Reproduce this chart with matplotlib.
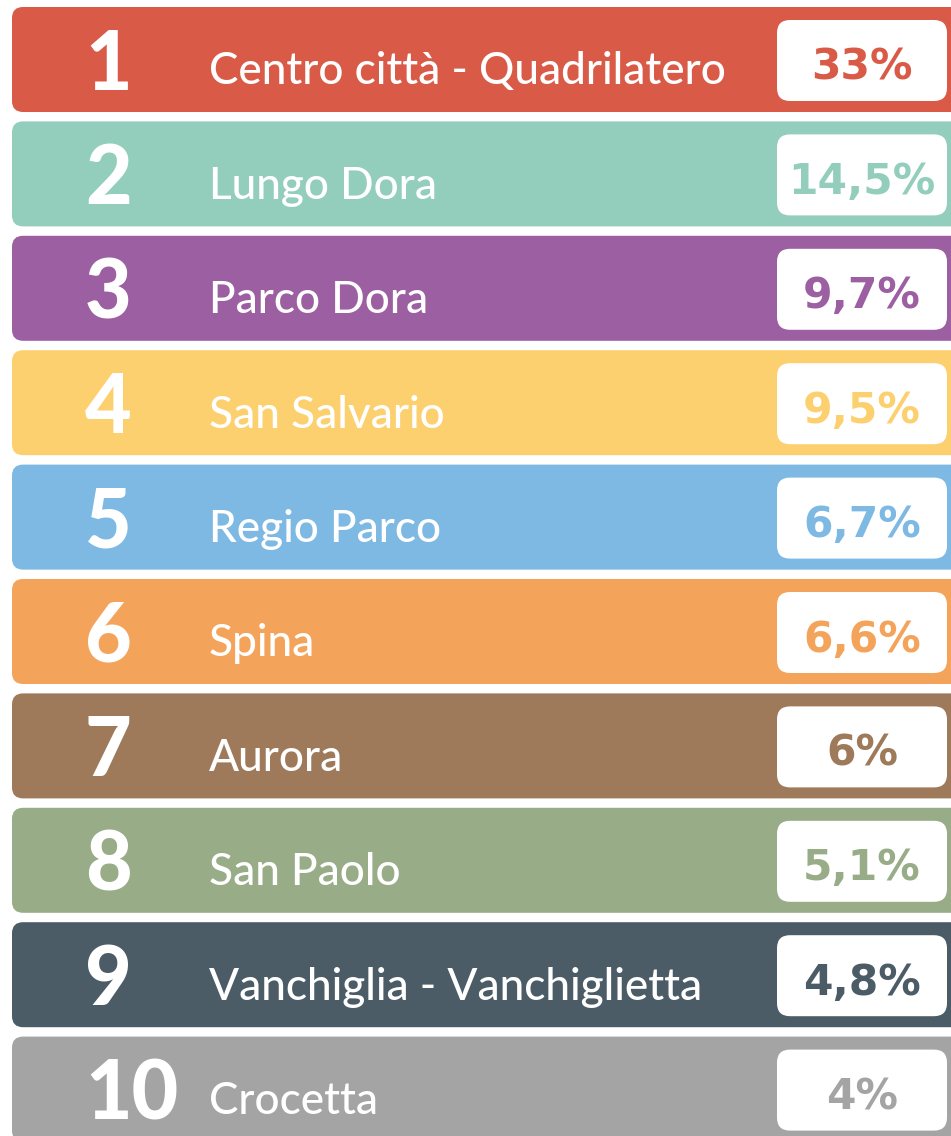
import matplotlib
matplotlib.use("Agg")
import matplotlib.pyplot as plt
from matplotlib.patches import FancyBboxPatch

ranks = [1, 2, 3, 4, 5, 6, 7, 8, 9, 10]
names = ["Centro città - Quadrilatero", "Lungo Dora", "Parco Dora", "San Salvario",
         "Regio Parco", "Spina", "Aurora", "San Paolo",
         "Vanchiglia - Vanchiglietta", "Crocetta"]
values = [33, 14.5, 9.7, 9.5, 6.7, 6.6, 6, 5.1, 4.8, 4]
colors = ["#D95B47", "#92CEBB", "#9C5FA2", "#FDD06F", "#7DB9E3",
          "#F4A35B", "#9E7A5A", "#97AC87", "#4B5C67", "#A5A4A5"]

W, H = 951, 1136
fig = plt.figure(figsize=(W / 100, H / 100), dpi=100)
ax = fig.add_axes([0, 0, 1, 1])
ax.set_xlim(0, W)
ax.set_ylim(H, 0)
ax.axis("off")

top0, pitch, bh = 7, 114.4, 105
for i, (r, n, v, c) in enumerate(zip(ranks, names, values, colors)):
    top = top0 + i * pitch
    ax.add_patch(FancyBboxPatch((12, top), 980, bh,
                                boxstyle="round,pad=0,rounding_size=11",
                                fc=c, ec="none"))
    ax.add_patch(FancyBboxPatch((777, top + 13), 170, 81,
                                boxstyle="round,pad=0,rounding_size=13",
                                fc="white", ec="none"))
    cy = top + bh / 2
    ax.text(85, cy + 30, str(r), color="white", fontsize=58, family="Lato",
            fontweight="black", ha="left", va="baseline")
    ax.text(209, cy + 25, n, color="white", fontsize=31.8, family="Lato",
            fontweight="medium", ha="left", va="baseline")
    s = (f"{v:g}").replace(".", ",") + "%"
    ax.text(862, cy + 20, s, color=c, fontsize=30.5, family="DejaVu Sans",
            fontweight="bold", ha="center", va="baseline")

fig.savefig("out.png", dpi=100)
